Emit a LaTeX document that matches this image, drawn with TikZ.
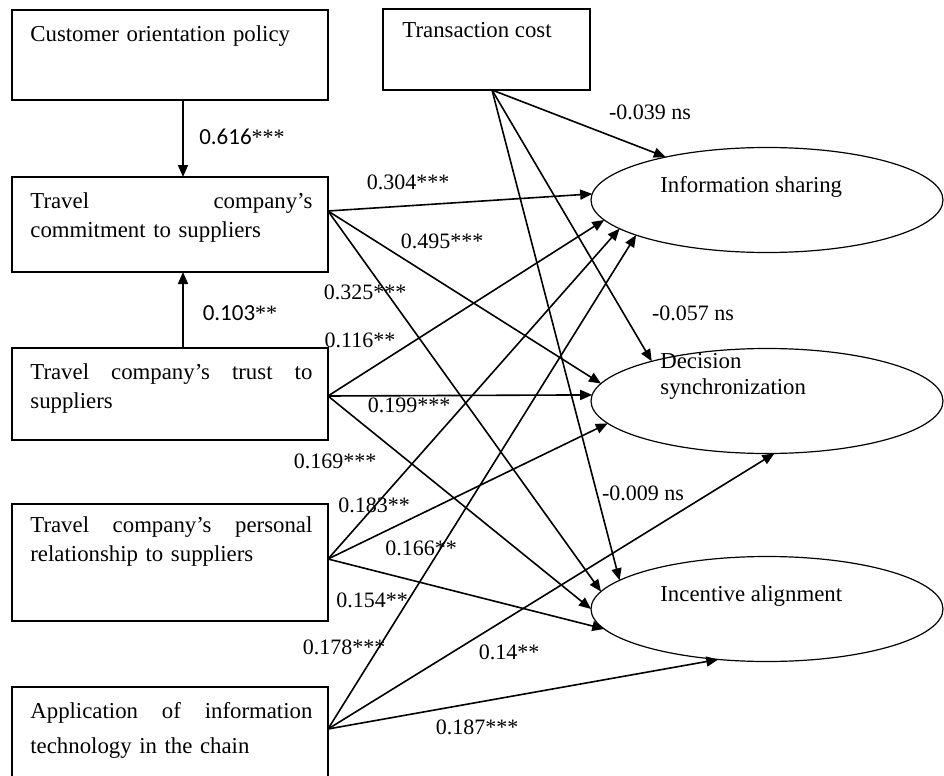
\documentclass[tikz,border=0pt]{standalone}
\usepackage{fontspec}
\setmainfont{Liberation Serif}
\newfontfamily\calib{Carlito}
\usetikzlibrary{arrows.meta,shapes.geometric}
\begin{document}
\begin{tikzpicture}[x=0.5pt,y=-0.5pt,
  box/.style={draw, line width=0.9pt, inner sep=0pt, outer sep=0pt},
  btext/.style={anchor=base west, inner sep=0pt, text width=141pt, align=left, font=\fontsize{11.4}{14.5}\selectfont},
  stext/.style={anchor=base west, inner sep=0pt, font=\fontsize{11.4}{13}\selectfont},
  oval/.style={draw, ellipse, line width=0.6pt, minimum width=176pt, minimum height=52.5pt, inner sep=0pt, outer sep=0pt},
  otext/.style={anchor=base west, inner sep=0pt, align=left, font=\fontsize{11.4}{13}\selectfont},
  arr/.style={-{Triangle[length=6pt,width=5pt]}, line width=0.8pt},
  lab/.style={inner sep=0pt, font=\fontsize{11}{13}\selectfont},
  labs/.style={inner sep=0pt, font=\calib\fontsize{11.5}{13}\selectfont}]
\useasboundingbox (0,0) rectangle (944,776);

% boxes
\node[box, minimum width=158pt, minimum height=45pt] (cop) at (170,55) {};
\node[box, minimum width=158pt, minimum height=47.5pt] (comm) at (170,224.5) {};
\node[box, minimum width=158pt, minimum height=46pt] (trust) at (170,394) {};
\node[box, minimum width=158pt, minimum height=58.5pt] (pers) at (170,562.5) {};
\node[box, minimum width=158pt, minimum height=66.5pt] (app) at (170,753.5) {};
\node[box, minimum width=103.5pt, minimum height=40.5pt] (tc) at (486.5,49.5) {};

% box texts
\node[btext] (copt) at (30,41) {Customer orientation policy};
\node[btext] (commt) at (30,208) {Travel\hfill company’s\\commitment to suppliers};
\node[btext] (trustt) at (30,379) {Travel\hfill company’s\hfill trust\hfill to\\suppliers};
\node[btext] (perst) at (30,532) {Travel\hfill company’s\hfill personal\\relationship to suppliers};
\node[btext, font=\fontsize{11.4}{17.5}\selectfont] (appt) at (30,718) {Application\hfill of\hfill information\\technology in the chain};
\node[stext] (tct) at (402,38) {Transaction cost};

% ellipses
\node[oval] (info) at (767,200) {};
\node[oval] (dec) at (767,401) {};
\node[oval] (inc) at (767,609) {};
\node[otext] (infot) at (660,192) {Information sharing};
\node[otext] (dect) at (660,394) {Decision\\synchronization};
\node[otext] (inct) at (660,601) {Incentive alignment};

% source points
\coordinate (cx) at (183,0);
\coordinate (tcS) at (492,90);
\coordinate (commE) at (328,211);
\coordinate (trustE) at (328,396);
\coordinate (persE) at (328,559);
\coordinate (appE) at (328,729);

% vertical arrows
\draw[arr] (cop.south -| cx) -- (comm.north -| cx);
\draw[arr] (trust.north -| cx) -- (comm.south -| cx);

% transaction cost
\draw[arr] (tcS) -- (info.157);
\draw[arr] (tcS) -- (dec.161);
\draw[arr] (tcS) -- (inc.169);
% commitment
\draw[arr] (commE) -- (info.178);
\draw[arr] (commE) -- (dec.174);
\draw[arr] (commE) -- (inc.174);
% trust
\draw[arr] (trustE) -- (info.187);
\draw[arr] (trustE) -- (dec.178);
\draw[arr] (trustE) -- (inc.180);
% personal relationship
\draw[arr] (persE) -- (info.191);
\draw[arr] (persE) -- (dec.188);
\draw[arr] (persE) -- (inc.187);
% application of IT
\draw[arr] (appE) -- (info.195);
\draw[arr] (appE) -- (dec.278);
\draw[arr] (appE) -- (inc.226);

% labels
\node[labs] (l616) at (242,137) {0.616{\rmfamily\fontsize{11}{13}\selectfont ***}};
\node[labs] (l103) at (240,313) {0.103{\rmfamily\fontsize{11}{13}\selectfont **}};
\node[lab] (l039) at (650,112) {-0.039 ns};
\node[lab] (l304) at (408,182) {0.304***};
\node[lab] (l495) at (442,241) {0.495***};
\node[lab] (l325) at (365,292) {0.325***};
\node[lab] (l116) at (360,340) {0.116**};
\node[lab] (l057) at (693,313) {-0.057 ns};
\node[lab] (l199) at (409,405) {0.199***};
\node[lab] (l169) at (335,461) {0.169***};
\node[lab] (l183) at (374,505) {0.183**};
\node[lab] (l166) at (421,548) {0.166**};
\node[lab] (l009) at (643,493) {-0.009 ns};
\node[lab] (l154) at (372,600) {0.154**};
\node[lab] (l178) at (344,647) {0.178***};
\node[lab] (l14) at (509,652) {0.14**};
\node[lab] (l187) at (477,727) {0.187***};
\end{tikzpicture}
\end{document}
